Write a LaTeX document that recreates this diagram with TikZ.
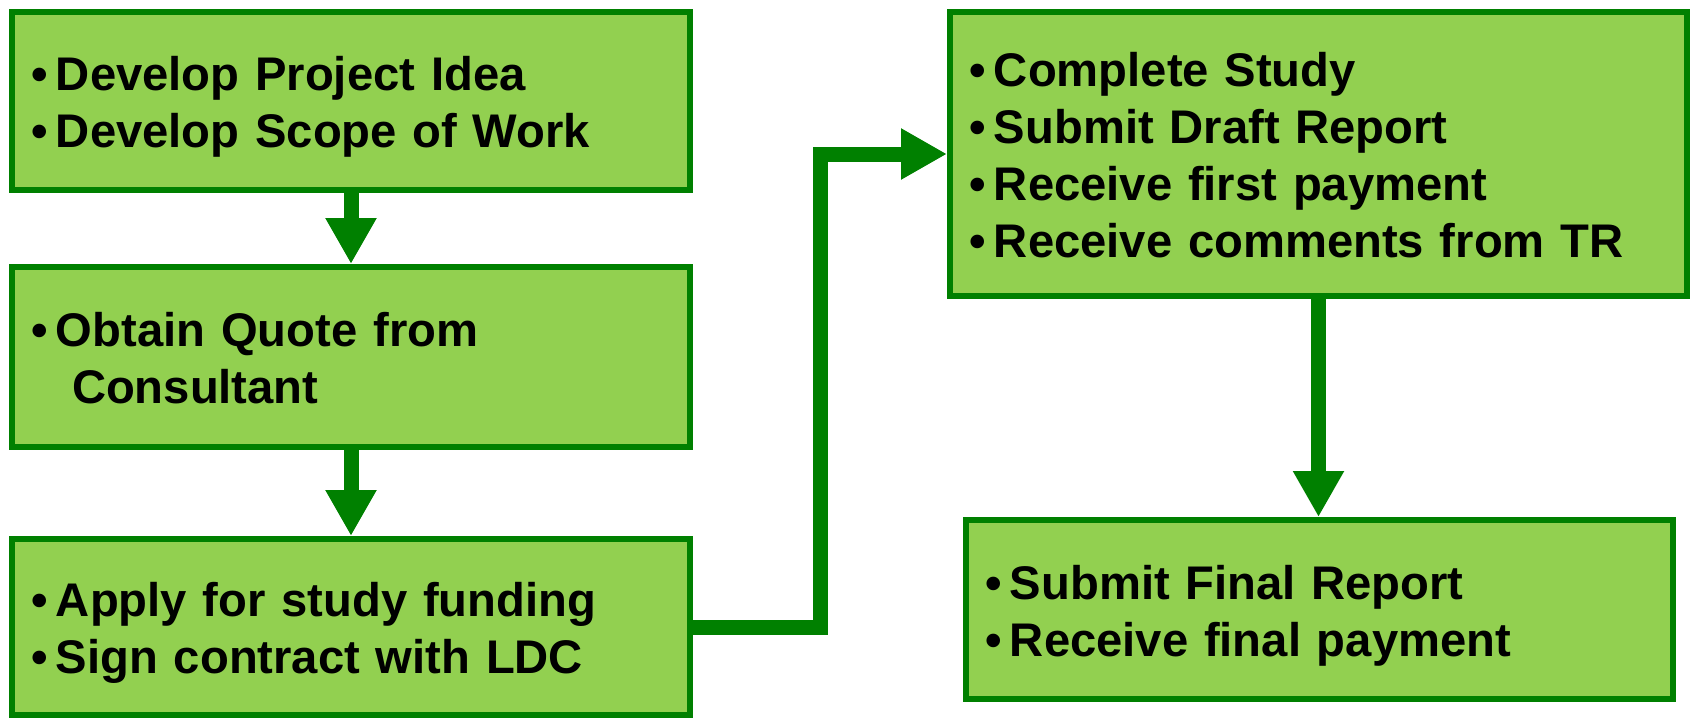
\documentclass[tikz,border=0pt]{standalone}
\usepackage{fontspec}
\newfontfamily\boxfont{Liberation Sans}
\usetikzlibrary{arrows.meta}
\definecolor{boxfill}{HTML}{92D050}
\definecolor{darkgreen}{HTML}{008000}
\newcommand\bul{\makebox[25pt][l]{•}}
\newcommand\topstrut{\rule{0pt}{46pt}}
\newcommand\botstrut{\rule[-10pt]{0pt}{10pt}}
\begin{document}
\begin{tikzpicture}[x=1pt,y=-1pt,
  box/.style={draw=darkgreen, fill=boxfill, line width=6pt, inner xsep=19pt, inner ysep=0pt,
    align=left, font=\boxfont\bfseries\fontsize{47.2}{57}\selectfont},
  flow/.style={draw=darkgreen, line width=15pt, line join=miter, -{Triangle[length=46pt,width=48pt]}}]
\useasboundingbox (0,0) rectangle (1692,721);
\node[box, minimum width=678pt, minimum height=178pt, text width=640pt] (b1) at (351,101)
  {\topstrut\bul Develop Project Idea\\\bul Develop Scope of Work\botstrut};
\node[box, minimum width=678pt, minimum height=180pt, text width=640pt] (b2) at (351,357)
  {\topstrut\bul Obtain Quote from\\\hspace*{41pt}Consultant\botstrut};
\node[box, minimum width=678pt, minimum height=176pt, text width=640pt] (b3) at (351,627)
  {\topstrut\bul Apply for study funding\\\bul Sign contract with LDC\botstrut};
\node[box, minimum width=737pt, minimum height=284pt, text width=699pt] (b4) at (1318.5,154)
  {\topstrut\bul Complete Study\\\bul Submit Draft Report\\\bul Receive first payment\\\bul Receive comments from TR\botstrut};
\node[box, minimum width=707pt, minimum height=179pt, text width=669pt] (b5) at (1319.5,609.5)
  {\topstrut\bul Submit Final Report\\\bul Receive final payment\botstrut};
\coordinate (bend) at (820.5,390);
\draw[flow] (b1.south) -- (b2.north);
\draw[flow] (b2.south) -- (b3.north);
\draw[flow] (b4.south) -- (b4.south |- b5.north);
\draw[flow] (b3.east) -| (bend) |- (b4.west);
\end{tikzpicture}
\end{document}
